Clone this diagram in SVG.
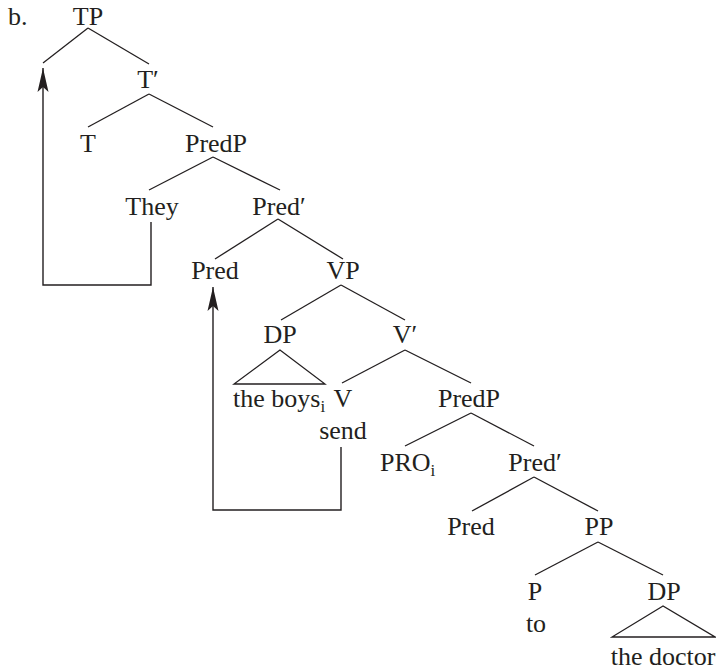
<svg xmlns="http://www.w3.org/2000/svg" width="716" height="670" viewBox="0 0 716 670">
<style>
text{font-family:"Liberation Serif","Times New Roman",serif;font-size:26px;fill:#231f20}
.m{text-anchor:middle}
.sub{font-size:17px}
line,polyline,polygon.tri{stroke:#231f20;stroke-width:1.3;fill:none}
.mv{stroke:#231f20;stroke-width:1.4;fill:none}
</style>
<defs>
<marker id="ah" markerUnits="userSpaceOnUse" viewBox="-24 -6 24 12" markerWidth="24" markerHeight="12" refX="0" refY="0" orient="auto">
<path d="M0,0 L-24,-5.5 L-19,0 L-24,5.5 Z" fill="#231f20"/>
</marker>
</defs>
<rect width="716" height="670" fill="#fff"/>
<text x="8" y="25">b.</text>
<g id="TP"><text class="m" x="88" y="25">TP</text></g>
<g id="Tbar"><text class="m" x="148" y="88">T′</text></g>
<g id="T"><text class="m" x="88" y="152">T</text></g>
<g id="PredP1"><text class="m" x="216" y="152">PredP</text></g>
<g id="They"><text class="m" x="152" y="215">They</text></g>
<g id="Predbar1"><text class="m" x="279" y="215">Pred′</text></g>
<g id="Pred1"><text class="m" x="215" y="279">Pred</text></g>
<g id="VP"><text class="m" x="343" y="279">VP</text></g>
<g id="DP1"><text class="m" x="280" y="343">DP</text><polygon class="tri" points="280,350 234,384 325,384"/><text x="233" y="407">the boys<tspan class="sub" dy="5">i</tspan></text></g>
<g id="Vbar"><text class="m" x="405" y="343">V′</text></g>
<g id="V"><text class="m" x="343" y="407">V</text><text class="m" x="343" y="439">send</text></g>
<g id="PredP2"><text class="m" x="469" y="407">PredP</text></g>
<g id="PRO"><text x="380" y="471">PRO<tspan class="sub" dy="5">i</tspan></text></g>
<g id="Predbar2"><text class="m" x="535" y="471">Pred′</text></g>
<g id="Pred2"><text class="m" x="471" y="535">Pred</text></g>
<g id="PP"><text class="m" x="599" y="535">PP</text></g>
<g id="P"><text class="m" x="535" y="600">P</text><text class="m" x="536" y="632">to</text></g>
<g id="DP2"><text class="m" x="664" y="600">DP</text><polygon class="tri" points="663,606 612,637 715,637"/><text class="m" x="663" y="665">the doctor</text></g>
<g id="connectors">
<line x1="88" y1="28" x2="43" y2="63"/><line x1="88" y1="28" x2="149" y2="64"/>
<line x1="149" y1="94" x2="88" y2="127"/><line x1="149" y1="94" x2="213" y2="127"/>
<line x1="213" y1="157" x2="149" y2="190"/><line x1="213" y1="157" x2="280" y2="190"/>
<line x1="278" y1="219" x2="215" y2="259"/><line x1="278" y1="219" x2="343" y2="259"/>
<line x1="341" y1="285" x2="281" y2="320"/><line x1="341" y1="285" x2="405" y2="320"/>
<line x1="405" y1="350" x2="342" y2="383"/><line x1="405" y1="350" x2="471" y2="383"/>
<line x1="471" y1="413" x2="405" y2="446"/><line x1="471" y1="413" x2="534" y2="446"/>
<line x1="534" y1="477" x2="472" y2="511"/><line x1="534" y1="477" x2="598" y2="511"/>
<line x1="598" y1="542" x2="535" y2="575"/><line x1="598" y1="542" x2="663" y2="575"/>
<path class="mv" d="M151,222 V285 H43 V68" marker-end="url(#ah)"/>
<path class="mv" d="M341,447 V510 H213 V287" marker-end="url(#ah)"/>
</g>
</svg>
